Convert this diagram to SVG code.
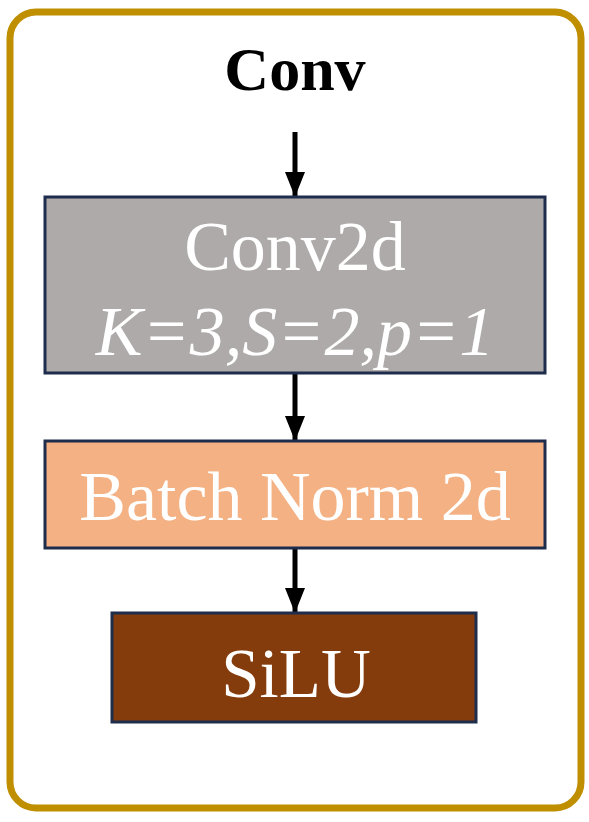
<svg xmlns="http://www.w3.org/2000/svg" width="589" height="822" viewBox="0 0 589 822">
<style>
.box{stroke:#1F2D4D;stroke-width:3}
.t{font-family:"Liberation Serif","Times New Roman",serif;fill:#FFFFFF;text-anchor:middle}
.conn{stroke:#000;stroke-width:5;fill:none}
</style>
<defs>
<marker id="ah" markerWidth="5" markerHeight="4" refX="5" refY="2" orient="auto" markerUnits="strokeWidth">
<path d="M0,0 L5,2 L0,4 Z" fill="#000"/>
</marker>
</defs>
<rect width="589" height="822" fill="#FFFFFF"/>
<g id="frame">
<rect x="10" y="12" width="571" height="796" rx="26" fill="#FFFFFF" stroke="#BF8F00" stroke-width="7"/>
<text x="295" y="90" font-family="Liberation Serif,'Times New Roman',serif" font-weight="bold" font-size="62" text-anchor="middle" fill="#000">Conv</text>
</g>
<g id="connectors">
<line class="conn" x1="295" y1="132" x2="295" y2="197" marker-end="url(#ah)"/>
<line class="conn" x1="295" y1="373" x2="295" y2="441" marker-end="url(#ah)"/>
<line class="conn" x1="295" y1="549" x2="295" y2="613" marker-end="url(#ah)"/>
</g>
<g id="conv2d">
<rect class="box" x="45" y="197" width="500" height="176" fill="#AEAAAA"/>
<text class="t" x="295" y="270" font-size="70">Conv2d</text>
<text class="t" x="295" y="355" font-size="70" font-style="italic">K=3,S=2,p=1</text>
</g>
<g id="batchnorm">
<rect class="box" x="45" y="441" width="500" height="107" fill="#F4B183"/>
<text class="t" x="295" y="520" font-size="70">Batch Norm 2d</text>
</g>
<g id="silu">
<rect class="box" x="112" y="613" width="364" height="109" fill="#843C0C"/>
<text class="t" x="296" y="697" font-size="69">SiLU</text>
</g>
</svg>
